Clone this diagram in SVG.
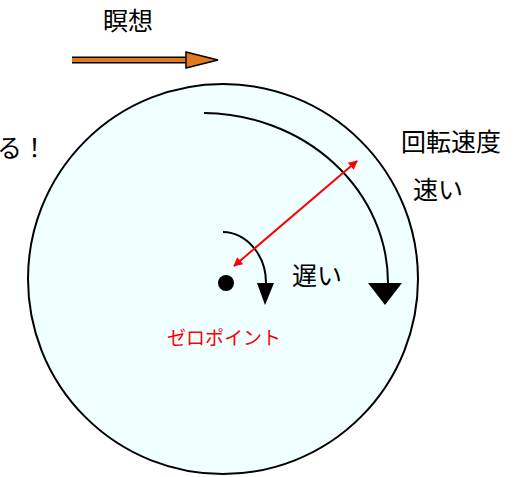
<svg xmlns="http://www.w3.org/2000/svg" width="524" height="477" viewBox="0 0 524 477">
<defs>
<style>
.t{font-family:"Noto Sans CJK JP","Noto Sans CJK SC",sans-serif;font-size:25px;fill:#000}
.red{fill:#ff0000;font-size:19px}
.ln{fill:none;stroke:#000;stroke-width:2}
</style>
<marker id="rh" viewBox="0 0 10 10" refX="9" refY="5" markerWidth="10" markerHeight="9" orient="auto-start-reverse" markerUnits="userSpaceOnUse">
<path d="M0,0 L10,5 L0,10 z" fill="#ff0000"/>
</marker>
</defs>
<rect width="524" height="477" fill="#fff"/>
<g id="disc"><circle cx="223" cy="279" r="195" fill="#f0ffff" stroke="#000" stroke-width="2"/></g>
<g id="labels">
<text class="t" x="128" y="30" text-anchor="middle">瞑想</text>
<text class="t" x="-3" y="157">る！</text>
<text class="t" x="401" y="151">回転速度</text>
<text class="t" x="413" y="199">速い</text>
<text class="t" x="292" y="285">遅い</text>
<text class="t red" x="167" y="345">ゼロポイント</text>
</g>
<g id="connectors">
<path d="M72,60 H186" stroke="#000" stroke-width="7" fill="none"/>
<path d="M72,60 H188" stroke="#e07a1a" stroke-width="4" fill="none"/>
<path d="M186,52 L218,60 L186,68 z" fill="#e07a1a" stroke="#000" stroke-width="1.5" stroke-linejoin="miter"/>
<path class="ln" d="M204,113 A186,170 0 0 1 388,283"/>
<path d="M368,283 L402,283 L385,305 z" fill="#000"/>
<path class="ln" d="M223,232 A44,51 0 0 1 266,283"/>
<path d="M257,283 L274,283 L265,305 z" fill="#000"/>
<circle cx="226" cy="283" r="8" fill="#000"/>
<line x1="357" y1="161" x2="234" y2="266" stroke="#ff0000" stroke-width="2" marker-start="url(#rh)" marker-end="url(#rh)"/>
</g>
</svg>
